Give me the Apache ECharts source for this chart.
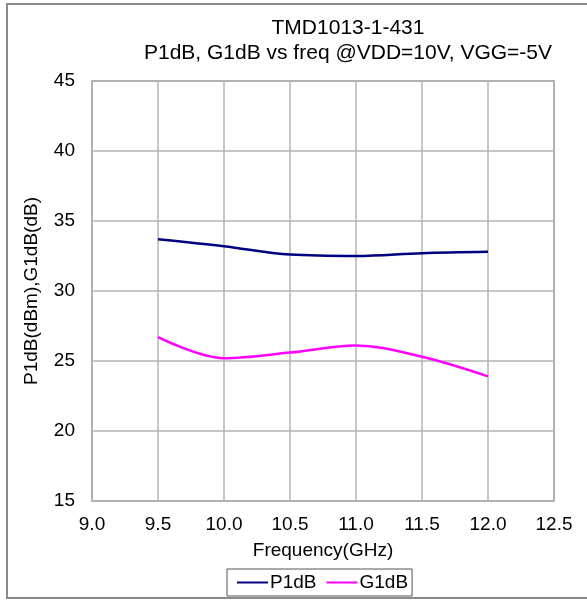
<!DOCTYPE html>
<html><head><meta charset="utf-8">
<script src="https://cdn.jsdelivr.net/npm/echarts@6/dist/echarts.min.js"></script>
<style>html,body{margin:0;padding:0;background:#fff}#c{width:587px;height:601px}</style>
</head><body><div id="c"></div>
<script>
var freq = [9.5, 10.0, 10.5, 11.0, 11.5, 12.0];
var p1dB = [33.7, 33.2, 32.6, 32.5, 32.7, 32.8];
var g1dB = [26.7, 25.2, 25.6, 26.1, 25.3, 23.9];
var titleLines = ['TMD1013-1-431', 'P1dB, G1dB vs freq @VDD=10V, VGG=-5V'];

function pairs(xs, ys){ return xs.map(function(x,i){return [x, ys[i]];}); }
var chart = echarts.init(document.getElementById('c'), null, {renderer:'canvas'});
var font = 'Liberation Sans, Arial, sans-serif';
chart.setOption({
  animation:false,
  backgroundColor:'#fff',
  graphic:[{type:'rect', shape:{x:7,y:4,width:600,height:594}, style:{fill:'none', stroke:'#8c8c8c', lineWidth:2}, silent:true, z:-1}],
  title:{text: titleLines.join('\n'), left:348, top:16, textAlign:'center', padding:0,
    textStyle:{fontFamily:font, fontSize:21, fontWeight:'normal', color:'#000', lineHeight:25}},
  grid:{left:92, top:81, width:462, height:420, show:true, borderColor:'#8c8c8c', borderWidth:1.5},
  legend:{top:569, left:227, width:192, data:['P1dB','G1dB'], itemWidth:31, itemHeight:2, itemGap:10,
    icon:'rect', borderColor:'#555', borderWidth:1, padding:[4,4,4,10], borderRadius:0,
    textStyle:{fontFamily:font, fontSize:19, color:'#000', padding:[0,0,0,-3]}},
  xAxis:{type:'value', min:9.0, max:12.5, interval:0.5,
    name:'Frequency(GHz)', nameLocation:'middle', nameGap:40,
    nameTextStyle:{fontFamily:font, fontSize:19, color:'#000'},
    axisLine:{show:false}, axisTick:{show:false},
    axisLabel:{fontFamily:font, fontSize:19, color:'#000', margin:14, formatter:function(v){return v.toFixed(1);}},
    splitLine:{show:true, lineStyle:{color:'#b4b4b4', width:1.5}}},
  yAxis:{type:'value', min:15, max:45, interval:5,
    name:'P1dB(dBm),G1dB(dB)', nameLocation:'middle', nameGap:51,
    nameTextStyle:{fontFamily:font, fontSize:19, color:'#000'},
    axisLine:{show:false}, axisTick:{show:false},
    axisLabel:{fontFamily:font, fontSize:19, color:'#000', margin:17},
    splitLine:{show:true, lineStyle:{color:'#b4b4b4', width:1.5}}},
  series:[
    {name:'P1dB', type:'line', data:pairs(freq,p1dB), smooth:0.35, showSymbol:false, symbol:'none',
      lineStyle:{color:'#000080', width:2.5}, itemStyle:{color:'#000080'}},
    {name:'G1dB', type:'line', data:pairs(freq,g1dB), smooth:0.35, showSymbol:false, symbol:'none',
      lineStyle:{color:'#ff00ff', width:2.5}, itemStyle:{color:'#ff00ff'}}
  ]
});
</script></body></html>
